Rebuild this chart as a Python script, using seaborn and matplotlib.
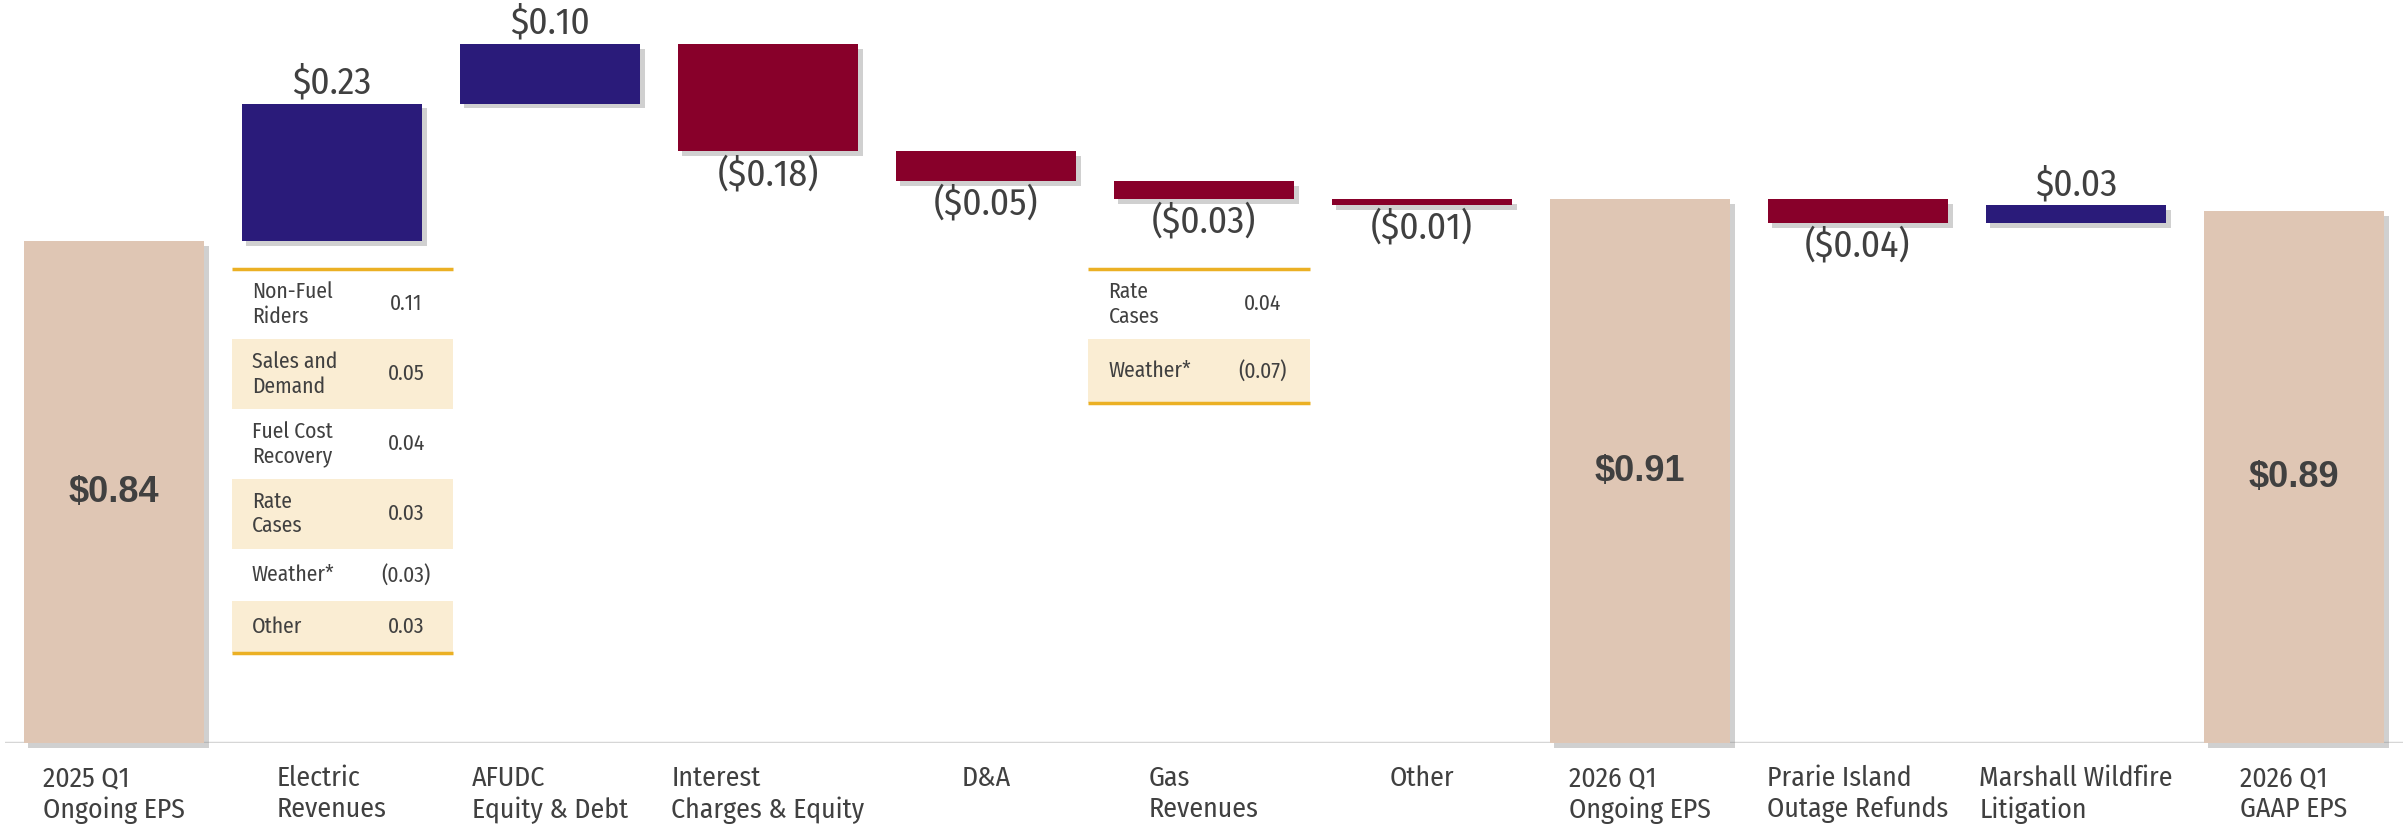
"""
Q1 EPS bridge — waterfall chart with driver tables.
"""
import matplotlib
matplotlib.use("Agg")
import matplotlib.pyplot as plt
import matplotlib.patheffects as pe
from matplotlib.patches import Rectangle
import seaborn as sns
import pandas as pd

sns.set_theme(style="white")
plt.rcParams["font.family"] = ["Fira Sans Condensed", "DejaVu Sans"]
BOLD_FAMILY = ["Arimo", "Liberation Sans", "DejaVu Sans"]

COLORS = {
    "up": "#2A1B7A",
    "down": "#88002A",
    "total": "#DFC6B4",
    "text": "#404040",
    "band": "#FAEDD3",
    "gold": "#EBB024",
    "axis": "#D6D6D6",
}

CATEGORIES = [
    "2025 Q1\nOngoing EPS", "Electric\nRevenues", "AFUDC\nEquity & Debt",
    "Interest\nCharges & Equity", "D&A", "Gas\nRevenues", "Other",
    "2026 Q1\nOngoing EPS", "Prarie Island\nOutage Refunds",
    "Marshall Wildfire\nLitigation", "2026 Q1\nGAAP EPS",
]
VALUES = [0.84, 0.23, 0.10, -0.18, -0.05, -0.03, -0.01, 0.91, -0.04, 0.03, 0.89]
IS_TOTAL = [True, False, False, False, False, False, False, True, False, False, True]

ELECTRIC_ITEMS = ["Non-Fuel\nRiders", "Sales and\nDemand", "Fuel Cost\nRecovery",
                  "Rate\nCases", "Weather*", "Other"]
ELECTRIC_VALUES = [0.11, 0.05, 0.04, 0.03, -0.03, 0.03]
GAS_ITEMS = ["Rate\nCases", "Weather*"]
GAS_VALUES = [0.04, -0.07]

# floating bar geometry from the running total
bottoms, heights = [], []
running = 0.0
for v, total in zip(VALUES, IS_TOTAL):
    if total:
        bottoms.append(0.0)
        heights.append(v)
        running = v
    else:
        bottoms.append(running + min(v, 0))
        heights.append(abs(v))
        running += v

df = pd.DataFrame({"step": CATEGORIES, "height": heights})

fig = plt.figure(figsize=(24.07, 8.25), dpi=100)
ax = fig.add_axes([5 / 2407, 82 / 825, 2398 / 2407, 743 / 825])

ax.axhline(0, color=COLORS["axis"], linewidth=2.5, zorder=1)
sns.barplot(data=df, x="step", y="height", bottom=bottoms, width=0.83,
            color=COLORS["total"], saturation=1, errorbar=None,
            linewidth=0, zorder=3, ax=ax)

shadow = [pe.SimplePatchShadow(offset=(3.5, -3.5), shadow_rgbFace="#8a8a8a", alpha=0.4),
          pe.Normal()]
for patch, v, total in zip(ax.patches, VALUES, IS_TOTAL):
    if total:
        patch.set_facecolor(COLORS["total"])
    else:
        patch.set_facecolor(COLORS["up"] if v > 0 else COLORS["down"])
    patch.set_path_effects(shadow)
    patch.set_clip_on(False)

# value labels
for i, (v, total, b, h) in enumerate(zip(VALUES, IS_TOTAL, bottoms, heights)):
    if total:
        ax.text(i, b + h / 2, rf"\${v:.2f}", ha="center", va="center",
                fontsize=26, fontweight="bold", family=BOLD_FAMILY,
                color=COLORS["text"], zorder=5)
    elif v > 0:
        ax.annotate(rf"\${v:.2f}", (i, b + h), xytext=(0, 2),
                    textcoords="offset points", ha="center", va="bottom",
                    fontsize=27, color=COLORS["text"])
    else:
        ax.annotate(rf"(\${-v:.2f})", (i, b), xytext=(0, -3),
                    textcoords="offset points", ha="center", va="top",
                    fontsize=27, color=COLORS["text"])


def draw_table(pos, items, values, left_off, single_h):
    left = pos + left_off
    width = 1.015
    top = 0.793
    y = top
    for k, (item, val) in enumerate(zip(items, values)):
        rh = 0.117 if "\n" in item else single_h
        if k % 2 == 1:
            ax.add_patch(Rectangle((left, y - rh), width, rh,
                                   facecolor=COLORS["band"], edgecolor="none",
                                   zorder=1))
        ax.text(left + 0.092, y - rh / 2, item, ha="left", va="center",
                fontsize=15.5, color=COLORS["text"], zorder=2)
        label = f"{val:.2f}" if val >= 0 else f"({-val:.2f})"
        ax.text(left + 0.80, y - rh / 2, label, ha="center", va="center",
                fontsize=15.5, color=COLORS["text"], zorder=2)
        y -= rh
    for yy in (top, y):
        ax.plot([left, left + width], [yy, yy], color=COLORS["gold"],
                linewidth=2.5, solid_capstyle="butt", zorder=2)


draw_table(CATEGORIES.index("Electric\nRevenues"), ELECTRIC_ITEMS,
           ELECTRIC_VALUES, -0.46, 0.087)
draw_table(CATEGORIES.index("Gas\nRevenues"), GAS_ITEMS, GAS_VALUES, -0.53, 0.107)

ax.set_xlim(-0.5, len(CATEGORIES) - 0.5)
ax.set_ylim(0, 1.2433)
ax.set_yticks([])
ax.set_xlabel("")
ax.set_ylabel("")
for s in ax.spines.values():
    s.set_visible(False)
ax.tick_params(axis="x", length=0, pad=16, labelsize=20, labelcolor=COLORS["text"])
for t in ax.get_xticklabels():
    t.set_multialignment("left")

fig.savefig("out.png", dpi=100, facecolor="white")
plt.close(fig)
